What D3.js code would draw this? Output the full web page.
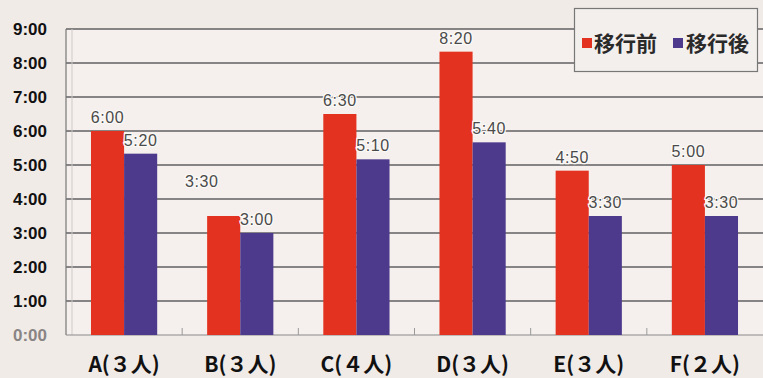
<!DOCTYPE html>
<html>
<head>
<meta charset="utf-8">
<script src="https://cdn.jsdelivr.net/npm/d3@7"></script>
<style>
  html, body { margin: 0; padding: 0; background: #f1ebe8; }
  svg { display: block; }
</style>
</head>
<body>
<svg id="chart" width="763" height="378"></svg>
<script>
// Working time per group, in minutes
const categories = ["A(３人)", "B(３人)", "C(４人)", "D(３人)", "E(３人)", "F(２人)"];
const seriesNames = ["移行前", "移行後"];
const beforeMinutes = [360, 210, 390, 500, 290, 300];
const afterMinutes = [320, 180, 310, 340, 210, 210];
const yTickHours = [0, 1, 2, 3, 4, 5, 6, 7, 8, 9];

const colors = ["#e3321f", "#4d3a8c"];
const fmt = m => Math.floor(m / 60) + ":" + String(m % 60).padStart(2, "0");

const svg = d3.select("#chart");
const W = 763, H = 378;
const plot = { left: 66, right: 763, top: 29, bottom: 335 };

svg.append("rect").attr("width", W).attr("height", H).attr("fill", "#f1ebe8");
svg.append("rect")
  .attr("x", plot.left).attr("y", plot.top)
  .attr("width", plot.right - plot.left).attr("height", plot.bottom - plot.top)
  .attr("fill", "#f5f0ee");

const x0 = d3.scaleBand().domain(categories)
  .range([plot.left, plot.right]).paddingInner(0.43).paddingOuter(0.215);
const x1 = d3.scaleBand().domain(seriesNames).range([0, x0.bandwidth()]);
const y = d3.scaleLinear().domain([0, 9]).range([plot.bottom, plot.top]);

// Horizontal gridlines
svg.append("g").selectAll("line").data(yTickHours.filter(h => h > 0)).join("line")
  .attr("x1", plot.left).attr("x2", plot.right)
  .attr("y1", d => y(d)).attr("y2", d => y(d))
  .attr("stroke", "#616161").attr("stroke-width", 1.4);

// Value axis line and category axis line
svg.append("line").attr("x1", plot.left).attr("x2", plot.left)
  .attr("y1", plot.top).attr("y2", plot.bottom)
  .attr("stroke", "#777").attr("stroke-width", 1.2);
svg.append("line").attr("x1", plot.left + 6).attr("x2", plot.left + 6)
  .attr("y1", plot.top).attr("y2", plot.bottom)
  .attr("stroke", "#cfc9c7").attr("stroke-width", 1);
svg.append("line").attr("x1", plot.left).attr("x2", plot.right)
  .attr("y1", plot.bottom).attr("y2", plot.bottom)
  .attr("stroke", "#8a8a8a").attr("stroke-width", 1.2);

// Category separator ticks
svg.append("g").selectAll("line").data(categories.slice(1)).join("line")
  .attr("x1", d => x0(d) - x0.step() * x0.paddingInner() / 2)
  .attr("x2", d => x0(d) - x0.step() * x0.paddingInner() / 2)
  .attr("y1", plot.bottom - 7).attr("y2", plot.bottom)
  .attr("stroke", "#9a9a9a").attr("stroke-width", 1);

// Y tick labels
svg.append("g").selectAll("text").data(yTickHours).join("text")
  .attr("x", 47).attr("y", d => y(d) + 6)
  .attr("text-anchor", "end")
  .attr("font-family", "'Liberation Sans', Arial, sans-serif")
  .attr("font-weight", "bold").attr("font-size", 17)
  .attr("fill", d => d === 0 ? "#8a8585" : "#111")
  .text(d => d + ":00");

// Bars
const rows = categories.map((c, i) => ({
  cat: c,
  vals: [
    { s: seriesNames[0], m: beforeMinutes[i], k: 0 },
    { s: seriesNames[1], m: afterMinutes[i], k: 1 }
  ]
}));

const groups = svg.append("g").selectAll("g").data(rows).join("g")
  .attr("transform", d => `translate(${x0(d.cat)},0)`);

groups.selectAll("rect").data(d => d.vals).join("rect")
  .attr("x", d => x1(d.s)).attr("width", x1.bandwidth())
  .attr("y", d => y(d.m / 60)).attr("height", d => y(0) - y(d.m / 60))
  .attr("fill", d => colors[d.k]);

// Data labels (B's "before" label sits up and to the left of its bar)
groups.selectAll("text").data((d, i) => d.vals.map(v => ({ ...v, ci: i }))).join("text")
  .attr("x", d => x1(d.s) + x1.bandwidth() / 2 + (d.ci === 1 && d.k === 0 ? -22 : 0))
  .attr("y", d => y(d.m / 60) - 8 + (d.ci === 1 && d.k === 0 ? -21 : 0))
  .attr("text-anchor", "middle")
  .attr("font-family", "'Liberation Sans', Arial, sans-serif")
  .attr("font-size", 16).attr("letter-spacing", 0.6)
  .attr("fill", "#4a4a4a")
  .attr("stroke", "#fbf9f6").attr("stroke-width", 2.5).attr("paint-order", "stroke")
  .text(d => fmt(d.m));

// Category labels
svg.append("g").selectAll("text").data(categories).join("text")
  .attr("x", d => x0(d) + x0.bandwidth() / 2).attr("y", 372)
  .attr("text-anchor", "middle")
  .attr("font-family", "'Noto Sans CJK JP', sans-serif")
  .attr("font-weight", "bold").attr("font-size", 21)
  .attr("fill", "#111")
  .text(d => d);

// Legend
const lg = svg.append("g");
lg.append("rect").attr("x", 574.5).attr("y", 8.5).attr("width", 183).attr("height", 63)
  .attr("fill", "#f3efed").attr("stroke", "#777").attr("stroke-width", 1.2);
const items = [
  { name: seriesNames[0], sx: 582, tx: 594 },
  { name: seriesNames[1], sx: 673, tx: 686 }
];
items.forEach((it, i) => {
  lg.append("rect").attr("x", it.sx).attr("y", 38).attr("width", 10).attr("height", 10)
    .attr("fill", colors[i]);
  lg.append("text").attr("x", it.tx).attr("y", 51)
    .attr("font-family", "'Noto Sans CJK JP', sans-serif")
    .attr("font-weight", "bold").attr("font-size", 21)
    .attr("fill", "#2a2a2a")
    .text(it.name);
});
</script>
</body>
</html>
